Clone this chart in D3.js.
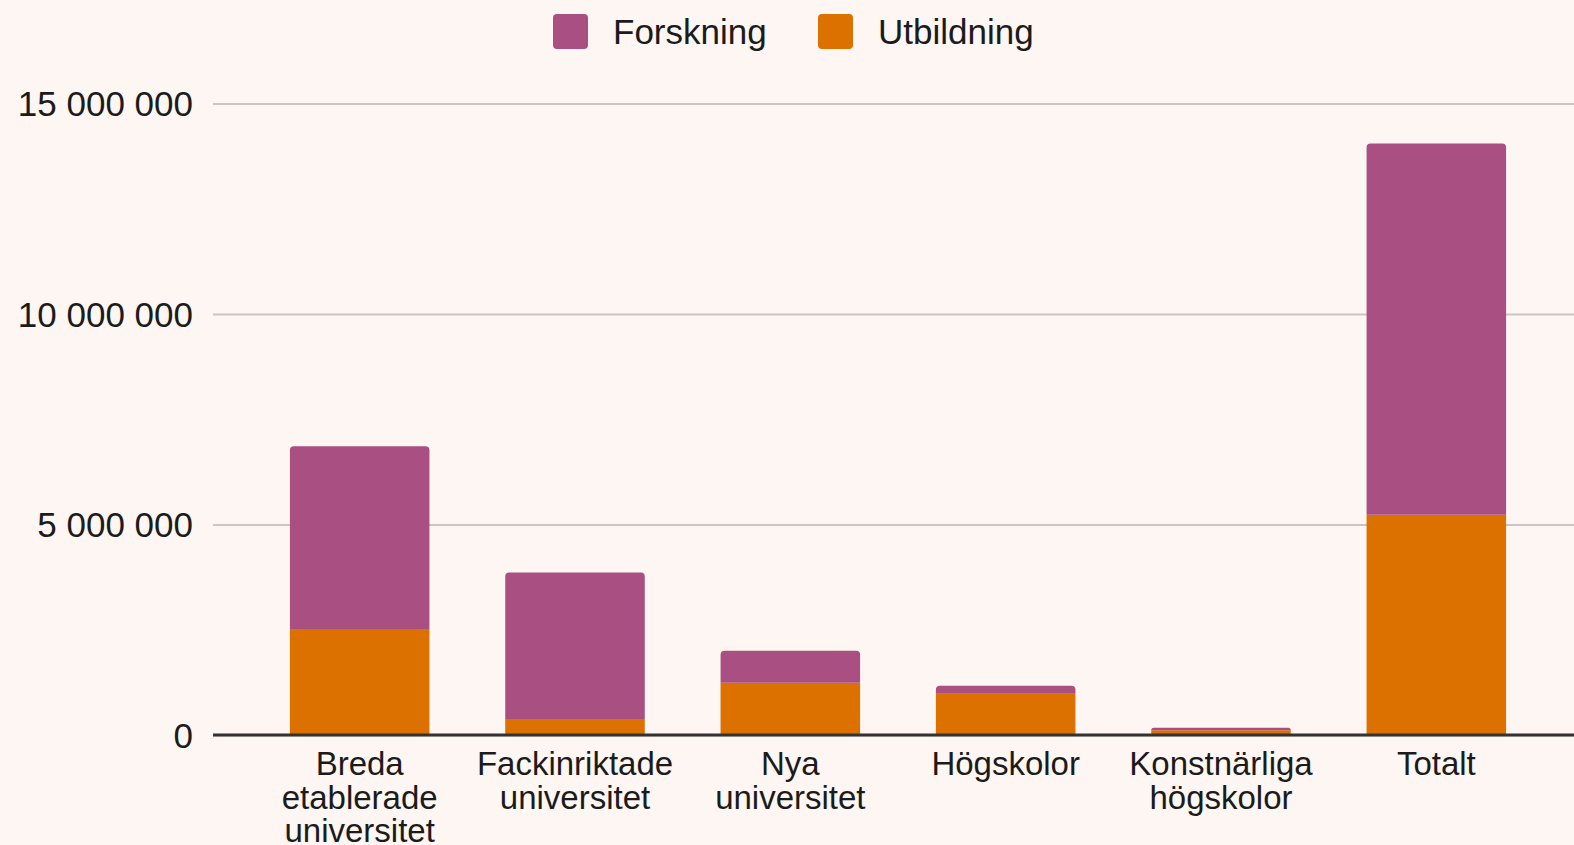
<!DOCTYPE html>
<meta charset="utf-8">
<html>
<head>
<script type="text/javascript" src="https://d3js.org/d3.v7.js"></script>
<style>
  body { margin: 0; background: #fdf6f2; }
  text { font-family: "Liberation Sans", Arial, Helvetica, sans-serif; fill: #1b1b1b; }
</style>
</head>
<body>
<div id="plotArea"></div>
<script>

  // data
  const categories = [["Breda", "etablerade", "universitet"], ["Fackinriktade", "universitet"], ["Nya", "universitet"], ["Högskolor"], ["Konstnärliga", "högskolor"], ["Totalt"]];
  const utbildning = [2520000, 380000, 1240000, 980000, 110000, 5230000];
  const forskning  = [4340000, 3480000, 760000, 190000, 60000, 8820000];
  const yTicks = [0, 5000000, 10000000, 15000000];
  const seriesNames = ["Forskning", "Utbildning"];
  const seriesColors = ["#a94f82", "#dc7100"];

  const W = 1574, H = 845;
  const svg = d3.select("#plotArea").append("svg")
                .attr("width", W).attr("height", H)
                .style("display", "block");
  svg.append("rect").attr("width", W).attr("height", H).attr("fill", "#fdf6f2");

  const catKeys = categories.map(d => d.join(" "));
  const xScale = d3.scaleBand().domain(catKeys).range([252, 1544]).paddingInner(0.352).paddingOuter(0.176);
  const yScale = d3.scaleLinear().domain([0, 15000000]).range([735, 103.5]);
  const fmt = v => d3.format(",")(v).replace(/,/g, " ");

  // gridlines + y tick labels
  const yAxis = svg.append("g")
    .attr("transform", "translate(213,0)")
    .call(d3.axisLeft(yScale).tickValues(yTicks).tickSize(-(W - 213)).tickFormat(fmt).tickPadding(20));
  yAxis.select(".domain").remove();
  yAxis.selectAll(".tick line").attr("stroke", "#cbc5c3").attr("stroke-width", 2);
  yAxis.selectAll(".tick text").style("font-size", "35px").attr("fill", "#1b1b1b").attr("dy", "0.35em");

  // stacked bars
  const rows = catKeys.map((k, i) => ({key: k, Utbildning: utbildning[i], Forskning: forskning[i]}));
  const stacked = d3.stack().keys(["Utbildning", "Forskning"])(rows);
  const colorOf = {Forskning: seriesColors[0], Utbildning: seriesColors[1]};

  function topRounded(x, y0, y1, w, r) {
    r = Math.min(r, (y0 - y1), w / 2);
    return `M${x},${y0}V${y1 + r}Q${x},${y1} ${x + r},${y1}H${x + w - r}Q${x + w},${y1} ${x + w},${y1 + r}V${y0}Z`;
  }

  stacked.forEach(function(layer) {
    svg.append("g").selectAll("path")
      .data(layer)
      .enter()
      .append("path")
      .attr("fill", colorOf[layer.key])
      .attr("d", function(d) {
        const x = xScale(d.data.key), w = xScale.bandwidth();
        const y0 = yScale(d[0]), y1 = yScale(d[1]);
        if (layer.key === "Forskning") return topRounded(x, y0, y1, w, 4);
        return `M${x},${y0}V${y1}H${x + w}V${y0}Z`;
      });
  });

  // baseline
  svg.append("line")
    .attr("x1", 213).attr("x2", W)
    .attr("y1", yScale(0)).attr("y2", yScale(0))
    .attr("stroke", "#333").attr("stroke-width", 3);

  // x labels
  const xl = svg.append("g").selectAll("text")
    .data(categories)
    .enter()
    .append("text")
    .attr("text-anchor", "middle")
    .style("font-size", "33px")
    .attr("x", (d, i) => xScale(catKeys[i]) + xScale.bandwidth() / 2)
    .attr("y", 775);
  xl.selectAll("tspan")
    .data(d => d)
    .enter()
    .append("tspan")
    .attr("x", function() { return d3.select(this.parentNode).attr("x"); })
    .attr("dy", (d, i) => i === 0 ? 0 : 33.5)
    .text(d => d);

  // legend
  const legendX = [553, 818];
  const leg = svg.append("g").selectAll("g")
    .data(seriesNames)
    .enter()
    .append("g")
    .attr("transform", (d, i) => `translate(${legendX[i]},14)`);
  leg.append("rect")
    .attr("width", 35).attr("height", 35).attr("rx", 4)
    .attr("fill", (d, i) => seriesColors[i]);
  leg.append("text")
    .attr("x", 60).attr("y", 17.5).attr("dy", "0.35em")
    .style("font-size", "35px")
    .text(d => d);

</script>
</body>
</html>
